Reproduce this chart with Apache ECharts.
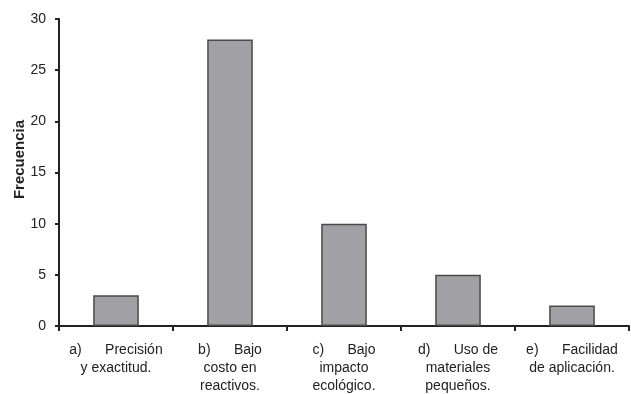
<!DOCTYPE html>
<html><head><meta charset="utf-8">
<script src="https://cdn.jsdelivr.net/npm/echarts@6/dist/echarts.min.js"></script>
<style>html,body{margin:0;padding:0;background:#fff}#c{width:631px;height:394px}</style>
</head><body><div id="c"></div>
<script>
const categories = [
  "a)      Precisión\ny exactitud.",
  "b)      Bajo\ncosto en\nreactivos.",
  "c)      Bajo\nimpacto\necológico.",
  "d)      Uso de\nmateriales\npequeños.",
  "e)      Facilidad\nde aplicación."
];
const frecuencia = [3, 28, 10, 5, 2];
const yTicks = {min: 0, max: 30, interval: 5};

const chart = echarts.init(document.getElementById('c'));
chart.setOption({
  animation: false,
  grid: {left: 59, right: 2, top: 19, bottom: 68, containLabel: false, outerBoundsMode: 'none'},
  xAxis: {
    type: 'category',
    data: categories,
    axisLine: {lineStyle: {color: '#222', width: 2}},
    axisTick: {show: true, length: 5, lineStyle: {color: '#222', width: 2}},
    axisLabel: {color: '#222', fontFamily: 'Liberation Sans', fontSize: 14, lineHeight: 18, margin: 15, interval: 0}
  },
  yAxis: {
    type: 'value',
    min: yTicks.min, max: yTicks.max, interval: yTicks.interval,
    name: 'Frecuencia', nameLocation: 'middle', nameGap: 32, nameMoveOverlap: false,
    nameTextStyle: {color: '#222', fontFamily: 'Liberation Sans', fontSize: 15, fontWeight: 'bold', padding: [0, 0, 0, 26]},
    axisLine: {show: true, lineStyle: {color: '#222', width: 2}},
    axisTick: {show: true, length: 4, lineStyle: {color: '#222', width: 2}},
    axisLabel: {color: '#222', fontFamily: 'Liberation Sans', fontSize: 14, margin: 13},
    splitLine: {show: false}
  },
  series: [{
    type: 'bar',
    data: frecuencia,
    barWidth: '40%',
    itemStyle: {color: '#a1a1a5', borderColor: '#4a4a4a', borderWidth: 1.5}
  }]
});
</script></body></html>
